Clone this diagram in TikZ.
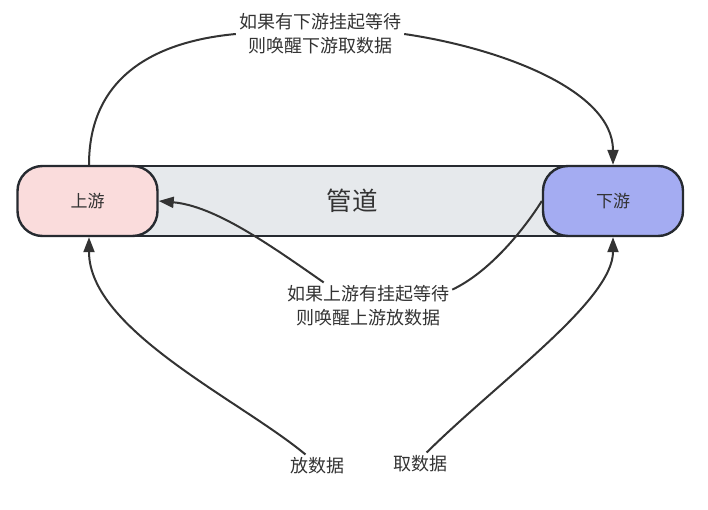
\documentclass[tikz,border=0pt]{standalone}
\usepackage{fontspec}
\setmainfont{Noto Sans CJK SC}
\usetikzlibrary{arrows.meta}
\definecolor{edge}{HTML}{333333}
\definecolor{border}{HTML}{262A30}
\definecolor{pinkfill}{HTML}{FADCDC}
\definecolor{bluefill}{HTML}{A4ACF2}
\definecolor{pipefill}{HTML}{E6E9EC}
\definecolor{txt}{HTML}{333333}
\tikzset{
  endbox/.style={draw=border, line width=2.4pt, rounded corners=25pt,
    minimum width=140pt, minimum height=70pt, inner sep=0pt,
    font=\fontsize{17}{20}\selectfont, text=txt},
  lbl/.style={align=center, inner sep=3pt, text=txt,
    font=\fontsize{18}{24}\selectfont},
  conn/.style={draw=edge, line width=2pt},
  arr/.style={conn, -{Triangle[length=15pt,width=11pt]}},
}
\begin{document}
\begin{tikzpicture}[x=1pt,y=-1pt]
\useasboundingbox (0,0) rectangle (708,510);
% pipe
\node[draw=border, line width=2.4pt, fill=pipefill, minimum width=450pt,
  minimum height=70pt, inner sep=0pt, text=txt,
  font=\fontsize{25.5}{28}\selectfont] (pipe) at (352,201) {管道};
\node[endbox, fill=pinkfill] (up) at (87.5,201) {上游};
\node[endbox, fill=bluefill] (down) at (613,201) {下游};
% labels
\node[lbl] (lab1) at (320,34) {如果有下游挂起等待\\则唤醒下游取数据};
\node[lbl] (lab2) at (368,306) {如果上游有挂起等待\\则唤醒上游放数据};
\node[lbl] (lab3) at (317,466) {放数据};
\node[lbl] (lab4) at (420,464) {取数据};
% top connector
\draw[conn] (up.north -| 89,0) .. controls (89,80) and (150,42) .. (lab1.west);
\draw[arr] (lab1.east) .. controls (500,48) and (613,90) .. (down.north);
% middle connector
\draw[conn] (down.west) .. controls (525,228) and (490,272) .. (lab2.11);
\draw[arr] (lab2.152) .. controls (270,245) and (215,206) .. (up.east);
% bottom connectors
\draw[arr] (lab3.135) .. controls (240,400) and (89,330) .. (up.south -| 89,0);
\draw[arr] (lab4.60) .. controls (500,380) and (613,300) .. (down.south);
\end{tikzpicture}
\end{document}
